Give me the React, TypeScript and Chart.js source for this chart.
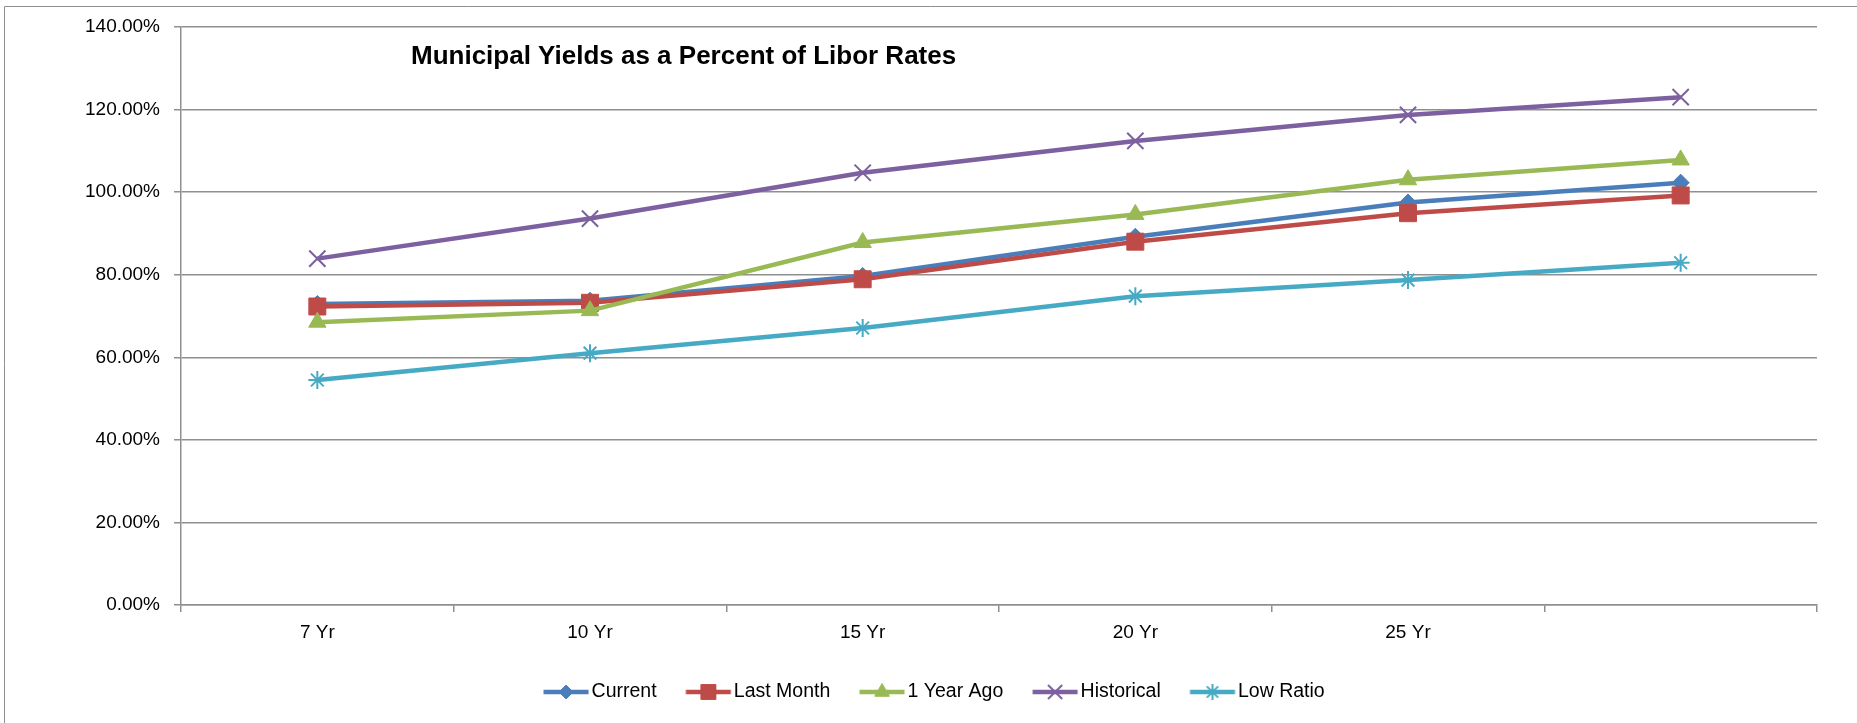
import React, { useEffect, useRef } from 'react';
import { Chart, registerables } from 'chart.js';
import { drawPoint } from 'chart.js/helpers';

Chart.register(...registerables);

// ---- Data ----
const categories = ['7 Yr', '10 Yr', '15 Yr', '20 Yr', '25 Yr', ''];
const current = [72.9, 73.7, 79.7, 89.2, 97.5, 102.3];
const lastMonth = [72.3, 73.2, 78.9, 88.0, 94.9, 99.2];
const oneYearAgo = [68.5, 71.3, 87.8, 94.6, 103.0, 107.8];
const historical = [83.9, 93.6, 104.7, 112.4, 118.7, 123.0];
const lowRatio = [54.5, 61.0, 67.1, 74.8, 78.7, 82.9];

const seriesLabels = ['Current', 'Last Month', '1 Year Ago', 'Historical', 'Low Ratio'];
const seriesData = [current, lastMonth, oneYearAgo, historical, lowRatio];
const yTickValues = [0, 20, 40, 60, 80, 100, 120, 140];
const chartTitle = 'Municipal Yields as a Percent of Libor Rates';

// ---- Styles ----
const seriesColors = ['#4A7EBB', '#BE4B48', '#98B954', '#7D60A0', '#46AAC5'];
const markerStyles = ['rectRot', 'rect', 'triangle', 'crossRot', 'star'];
const markerRadii = [8.5, 12, 10, 11.5, 9];
const legendMarkerRadii = [7, 10.5, 8.5, 10, 8];
const FONT = '"Liberation Sans", Arial, sans-serif';
const GRID = '#8f8f8f';
const LEGEND_FONT = 19.5;

const isStroked = (s: string) => s === 'crossRot' || s === 'star';

function makeLegendIcon(color: string, style: string, radius: number) {
  const c = document.createElement('canvas');
  c.width = 76;
  c.height = 24;
  const ctx = c.getContext('2d')!;
  ctx.strokeStyle = color;
  ctx.lineWidth = 4.5;
  ctx.beginPath();
  ctx.moveTo(28.5, 12);
  ctx.lineTo(73.5, 12);
  ctx.stroke();
  ctx.fillStyle = color;
  ctx.strokeStyle = color;
  ctx.lineWidth = isStroked(style) ? 2 : 1;
  drawPoint(ctx, { pointStyle: style, radius, rotation: 0, borderWidth: ctx.lineWidth } as any, 51, 12);
  return c;
}

const decorPlugin = {
  id: 'decor',
  beforeDraw(chart: any) {
    const ctx = chart.ctx;
    ctx.save();
    ctx.fillStyle = '#ffffff';
    ctx.fillRect(0, 0, chart.width, chart.height);
    ctx.strokeStyle = '#8e8e8e';
    ctx.lineWidth = 1;
    ctx.beginPath();
    ctx.moveTo(4.5, chart.height);
    ctx.lineTo(4.5, 6.5);
    ctx.lineTo(chart.width, 6.5);
    ctx.stroke();
    ctx.restore();
  },
  afterDraw(chart: any) {
    const ctx = chart.ctx;
    ctx.save();
    ctx.fillStyle = '#000000';
    ctx.font = `bold 26px ${FONT}`;
    ctx.textAlign = 'left';
    ctx.textBaseline = 'middle';
    ctx.fillText(chartTitle, chart.chartArea.left + 230, 57);
    ctx.restore();
  },
};

export default function App() {
  const ref = useRef<HTMLCanvasElement | null>(null);

  useEffect(() => {
    document.body.style.margin = '0';
    document.body.style.overflow = 'hidden';
    const canvas = ref.current;
    if (!canvas) return;

    const icons = seriesLabels.map((_, i) =>
      makeLegendIcon(seriesColors[i], markerStyles[i], legendMarkerRadii[i])
    );

    const datasets = seriesLabels.map((label, i) => ({
      label,
      data: seriesData[i],
      borderColor: seriesColors[i],
      backgroundColor: seriesColors[i],
      borderWidth: 4.5,
      tension: 0,
      pointStyle: markerStyles[i],
      pointRadius: markerRadii[i],
      pointBackgroundColor: seriesColors[i],
      pointBorderColor: seriesColors[i],
      pointBorderWidth: isStroked(markerStyles[i]) ? 2 : 1,
      order: seriesLabels.length - i,
    }));

    const chart = new Chart(canvas, {
      type: 'line',
      data: { labels: categories, datasets },
      plugins: [decorPlugin],
      options: {
        responsive: false,
        animation: false,
        events: [],
        layout: { padding: { left: 0, right: 8, top: 27, bottom: 11.25 } },
        plugins: {
          tooltip: { enabled: false },
          title: { display: false },
          legend: {
            position: 'bottom',
            labels: {
              usePointStyle: true,
              pointStyleWidth: 57.5,
              padding: 10,
              color: '#000',
              font: { family: FONT, size: LEGEND_FONT },
              generateLabels: (ch: any) =>
                ch.data.datasets.map((ds: any, i: number) => ({
                  text: ds.label,
                  pointStyle: icons[i],
                  fillStyle: seriesColors[i],
                  strokeStyle: seriesColors[i],
                  lineWidth: 0,
                  hidden: false,
                  datasetIndex: i,
                  fontColor: '#000',
                })),
            },
          },
        },
        scales: {
          x: {
            type: 'category',
            offset: true,
            grid: {
              offset: true,
              drawOnChartArea: false,
              drawTicks: true,
              tickLength: 7,
              color: GRID,
              lineWidth: 1.5,
            },
            border: { color: GRID, width: 1.5 },
            ticks: {
              color: '#000',
              font: { family: FONT, size: 19 },
              padding: 9,
              maxRotation: 0,
              autoSkip: false,
            },
            afterFit: (s: any) => {
              s.height = 67.25;
            },
          },
          y: {
            min: 0,
            max: 140,
            afterBuildTicks: (s: any) => {
              s.ticks = yTickValues.map((v) => ({ value: v }));
            },
            ticks: {
              color: '#000',
              font: { family: FONT, size: 19 },
              padding: 14,
              callback: (v: any) => Number(v).toFixed(2) + '%',
            },
            grid: { color: GRID, lineWidth: 1.5, tickLength: 7 },
            border: { color: GRID, width: 1.5 },
            afterFit: (s: any) => {
              s.width = 181;
            },
          },
          yR: {
            position: 'right',
            display: true,
            grid: { display: false },
            ticks: { display: false },
            border: { display: false },
            afterFit: (s: any) => {
              s.width = 32;
            },
          },
        },
      } as any,
    });

    return () => chart.destroy();
  }, []);

  return (
    <div style={{ width: 1857, height: 723, overflow: 'hidden' }}>
      <canvas ref={ref} width={1857} height={723} style={{ display: 'block' }} />
    </div>
  );
}
